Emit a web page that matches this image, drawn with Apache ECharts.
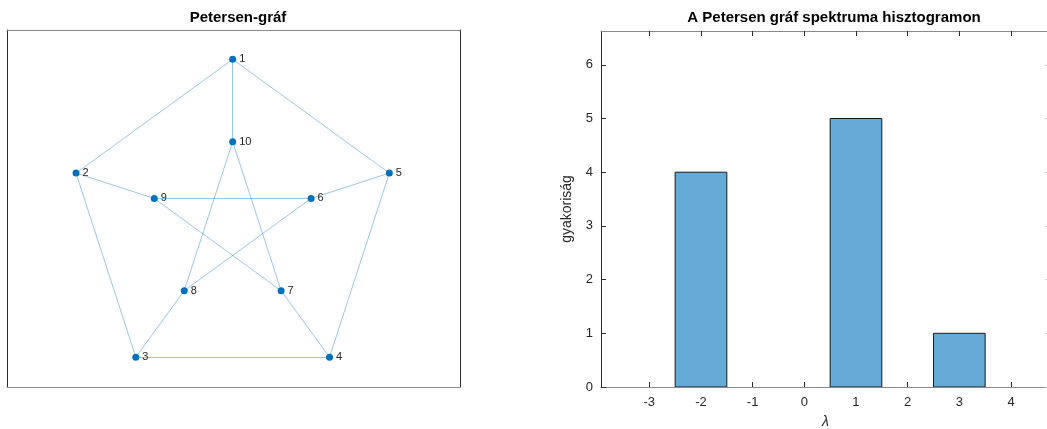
<!DOCTYPE html>
<html>
<head>
<meta charset="utf-8">
<script src="https://cdn.jsdelivr.net/npm/echarts@6/dist/echarts.min.js"></script>
<style>
html,body{margin:0;padding:0;background:#fff;}
#main{width:1047px;height:429px;}
</style>
</head>
<body>
<div id="main"></div>
<script>
// ---- Petersen graph data ----
const nodeNames = ['1','2','3','4','5','6','7','8','9','10'];
const nodeX = [0, -0.951, -0.588, 0.588, 0.951, 0.476, 0.294, -0.294, -0.476, 0];
const nodeY = [1, 0.309, -0.809, -0.809, 0.309, 0.155, -0.405, -0.405, 0.155, 0.5];
const edgeSource = ['1','2','3','4','5','1','2','3','4','5','10','10','9','9','8'];
const edgeTarget = ['2','3','4','5','1','10','9','8','7','6','8','7','6','7','6'];

// ---- Histogram data ----
const binLower = [-2.5, -1.5, -0.5, 0.5, 1.5, 2.5];
const binUpper = [-1.5, -0.5, 0.5, 1.5, 2.5, 3.5];
const binCounts = [4, 0, 0, 5, 0, 1];
const xTickValues = [-3, -2, -1, 0, 1, 2, 3, 4];
const yTickValues = [0, 1, 2, 3, 4, 5, 6];

const titleLeft = 'Petersen-gráf';
const titleRight = 'A Petersen gráf spektruma hisztogramon';
const xName = 'λ';
const yName = 'gyakoriság';

const FONT = 'Liberation Sans, Arial, Helvetica, sans-serif';
const HLINE = '#8a8a8a';
const VLINE = '#2b2b2b';
const TXT = '#262626';

const chart = echarts.init(document.getElementById('main'), null, {renderer: 'canvas'});

const graphNodes = nodeNames.map((n, i) => ({name: n, value: [nodeX[i], nodeY[i]]}));
const graphLinks = edgeSource.map((s, i) => ({source: s, target: edgeTarget[i]}));
const histData = binLower.map((lo, i) => [lo, binUpper[i], binCounts[i]]).filter(d => d[2] > 0);

function boxAxis(gridIndex, position, min, max, color) {
  return {
    type: 'value', gridIndex: gridIndex, position: position, min: min, max: max,
    axisLine: {show: true, onZero: false, lineStyle: {color: color, width: 1}},
    axisTick: {show: false}, axisLabel: {show: false}, splitLine: {show: false}
  };
}

const option = {
  backgroundColor: '#ffffff',
  animation: false,
  title: [
    {text: titleLeft, left: 233, top: 5, textAlign: 'center',
     textStyle: {fontFamily: FONT, fontSize: 15, fontWeight: 'bold', color: '#000'}},
    {text: titleRight, left: 829, top: 5, textAlign: 'center',
     textStyle: {fontFamily: FONT, fontSize: 15, fontWeight: 'bold', color: '#000'}}
  ],
  grid: [
    {left: 7, top: 30, width: 453, height: 357, containLabel: false, outerBoundsMode: 'none'},
    {left: 601, top: 31, width: 449, height: 356, containLabel: false, outerBoundsMode: 'none'}
  ],
  xAxis: [
    boxAxis(0, 'bottom', -1.370, 1.380, HLINE),
    boxAxis(0, 'top', -1.370, 1.380, HLINE),
    {
      type: 'value', gridIndex: 1, position: 'bottom', min: -3.935, max: 4.755,
      name: xName, nameLocation: 'middle', nameGap: 28,
      nameTextStyle: {fontFamily: FONT, fontSize: 14, fontStyle: 'italic', color: TXT},
      axisLine: {show: true, onZero: false, lineStyle: {color: HLINE, width: 1}},
      axisTick: {show: true, inside: true, length: 5, customValues: xTickValues, lineStyle: {color: VLINE}},
      axisLabel: {show: true, customValues: xTickValues, margin: 9, fontFamily: FONT, fontSize: 13, color: TXT},
      splitLine: {show: false}
    },
    {
      type: 'value', gridIndex: 1, position: 'top', min: -3.935, max: 4.755,
      axisLine: {show: true, onZero: false, lineStyle: {color: HLINE, width: 1}},
      axisTick: {show: true, inside: true, length: 5, customValues: xTickValues, lineStyle: {color: VLINE}},
      axisLabel: {show: false}, splitLine: {show: false}
    }
  ],
  yAxis: [
    boxAxis(0, 'left', -0.990, 1.178, VLINE),
    boxAxis(0, 'right', -0.990, 1.178, VLINE),
    {
      type: 'value', gridIndex: 1, position: 'left', min: 0, max: 6.63,
      name: yName, nameLocation: 'middle', nameGap: 27, nameRotate: 90,
      nameTextStyle: {fontFamily: FONT, fontSize: 14, color: TXT},
      axisLine: {show: true, onZero: false, lineStyle: {color: VLINE, width: 1}},
      axisTick: {show: true, inside: true, length: 5, customValues: yTickValues, lineStyle: {color: VLINE}},
      axisLabel: {show: true, customValues: yTickValues, margin: 8, fontFamily: FONT, fontSize: 13, color: TXT},
      splitLine: {show: false}
    },
    {
      type: 'value', gridIndex: 1, position: 'right', min: 0, max: 6.63,
      axisLine: {show: true, onZero: false, lineStyle: {color: VLINE, width: 1}},
      axisTick: {show: true, inside: true, length: 5, customValues: yTickValues, lineStyle: {color: '#c8c8c8'}},
      axisLabel: {show: false}, splitLine: {show: false}
    }
  ],
  series: [
    {
      type: 'graph', coordinateSystem: 'cartesian2d', xAxisIndex: 0, yAxisIndex: 0,
      layout: 'none', symbol: 'circle', symbolSize: 7,
      itemStyle: {color: '#0072BD'},
      lineStyle: {color: '#0072BD', opacity: 0.4, width: 1, curveness: 0},
      label: {show: true, position: 'right', distance: 3, formatter: '{b}',
              fontFamily: FONT, fontSize: 11, color: TXT},
      emphasis: {disabled: true},
      data: graphNodes,
      links: graphLinks,
      z: 3
    },
    {
      type: 'custom', xAxisIndex: 2, yAxisIndex: 2, clip: true,
      data: histData,
      renderItem: function (params, api) {
        const p0 = api.coord([api.value(0), api.value(2)]);
        const p1 = api.coord([api.value(1), 0]);
        return {
          type: 'rect',
          shape: {x: p0[0], y: p0[1], width: p1[0] - p0[0], height: p1[1] - p0[1]},
          style: {fill: '#66AAD7', stroke: '#1a1a1a', lineWidth: 1}
        };
      },
      z: 2
    }
  ]
};
chart.setOption(option);
</script>
</body>
</html>
